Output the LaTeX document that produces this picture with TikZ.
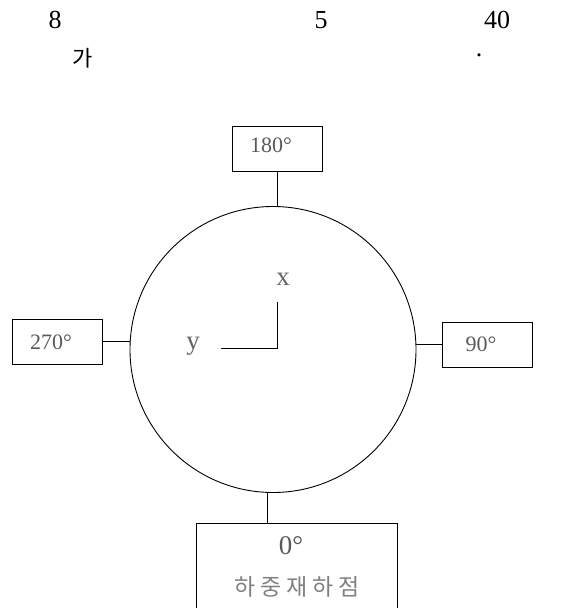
\documentclass[tikz,border=0pt]{standalone}
\usepackage{fontspec}
\setmainfont{Liberation Serif}
\newfontfamily\krfont{Noto Sans CJK KR}
\begin{document}
\begin{tikzpicture}[x=1pt,y=-1pt,
  box/.style={draw=black,line width=0.9pt,inner sep=0pt,minimum width=90pt,minimum height=45pt},
  boxtxt/.style={font=\fontsize{22}{22}\selectfont,text=black!65,inner sep=0pt},
  ln/.style={line width=0.9pt},
  toptxt/.style={font=\fontsize{26}{26}\selectfont,inner sep=0pt},
  axlbl/.style={font=\fontsize{27}{27}\selectfont,text=black!60,inner sep=0pt}]
\useasboundingbox (0,0) rectangle (578,608);
% heading text
\node[toptxt] (t8) at (55,20) {8};
\node[toptxt] (t5) at (321,20) {5};
\node[toptxt] (t40) at (497,20) {40};
\node[font=\krfont\fontsize{22}{22}\selectfont,inner sep=0pt] (tga) at (83,58) {가};
\node[toptxt] (tdot) at (479,55) {.};
% circle
\node[draw=black,line width=0.9pt,circle,minimum size=286pt,inner sep=0pt] (c) at (273,349.5) {};
% label boxes
\node[box] (b180) at (277,149) {};
\node[box] (b270) at (57.5,341.5) {};
\node[box] (b90) at (487,344.5) {};
\node[boxtxt] (l180) at (271,145) {180°};
\node[boxtxt] (l270) at (51,342) {270°};
\node[boxtxt] (l90) at (481,344) {90°};
\draw[ln] (b180.south) -- (b180.south |- c.north);
\draw[ln] (b270.east) -- (b270.east -| c.west);
\draw[ln] (b90.west) -- (b90.west -| c.east);
% bottom box (runs off the page)
\coordinate (btop) at (267,523);
\draw[ln] (196,615) -- (196,523) -- (397,523) -- (397,615);
\draw[ln] (btop |- c.south) -- (btop);
\node[font=\fontsize{27}{27}\selectfont,text=black!65,inner sep=0pt] (zero) at (291,546) {0°};
\node[font=\krfont\fontsize{23}{23}\selectfont,text=black!50,inner sep=0pt] (kr) at (297,587) {하\hspace{5pt}중\hspace{5pt}재\hspace{5pt}하\hspace{5pt}점};
% axes
\coordinate (o) at (277,348);
\coordinate (xe) at (277,302);
\coordinate (ye) at (221,348);
\draw[ln] (xe) -- (o) -- (ye);
\node[axlbl] (xl) at (283,279) {x};
\node[axlbl] (yl) at (193,346) {y};
\end{tikzpicture}
\end{document}
